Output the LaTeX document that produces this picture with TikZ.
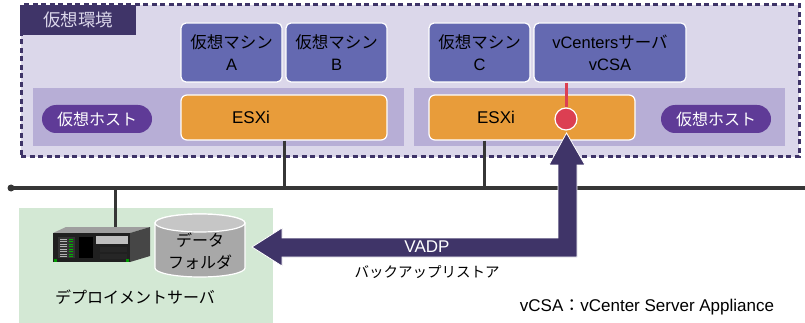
\documentclass[tikz,border=0pt]{standalone}
\usepackage{fontspec}
\setmainfont{Liberation Sans}
\newfontfamily\jp{Noto Sans CJK JP}
\newfontfamily\lat{Liberation Sans}
\usepackage{tikz}
\usetikzlibrary{positioning, arrows.meta}
\definecolor{envlav}{HTML}{DBD7EA}
\definecolor{envdark}{HTML}{3F3468}
\definecolor{vmblue}{HTML}{6469B1}
\definecolor{hostlav}{HTML}{B7AED6}
\definecolor{esxiorange}{HTML}{E89C3A}
\definecolor{pillpurple}{HTML}{5F3B97}
\definecolor{vcsared}{HTML}{DC3F52}
\definecolor{deploygreen}{HTML}{D3E8D4}
\definecolor{lanline}{HTML}{363636}
\definecolor{folderside}{HTML}{A8A8A8}
\definecolor{foldertop}{HTML}{C6C6C6}
\tikzset{
  jpfont/.style={font=\jp\fontsize{#1}{22}\selectfont},
  vmbox/.style={draw=white, line width=1.2pt, fill=vmblue, rounded corners=5pt,
    minimum width=101pt, minimum height=59pt, inner sep=0pt, align=center,
    jpfont=16.5},
  hostband/.style={fill=hostlav, minimum width=371pt, minimum height=58pt, inner sep=0pt},
  esxibox/.style={draw=white, line width=1.2pt, fill=esxiorange, rounded corners=6pt,
    minimum width=206pt, minimum height=45pt, inner sep=0pt},
  hostpill/.style={fill=pillpurple, rounded corners=14pt, minimum width=110pt,
    minimum height=28pt, inner sep=0pt, text=white, jpfont=16},
  lan/.style={draw=lanline, line width=3pt},
}
\begin{document}
\begin{tikzpicture}[x=1pt, y=-1pt]
  \useasboundingbox (0,0) rectangle (805,323);

  % virtual environment frame
  \node[fill=envlav, draw=envdark, line width=3pt, dash pattern=on 5pt off 3.5pt,
    minimum width=778pt, minimum height=152pt, inner sep=0pt] (env) at (410,81) {};
  \node[fill=envdark, minimum width=116pt, minimum height=30pt, inner sep=0pt,
    text=envlav, jpfont=17.5] (envtab) at (78,20) {仮想環境};

  % host bands
  \node[hostband] (bandL) at (218.5,117) {};
  \node[hostband] (bandR) at (599.5,117) {};
  \node[hostpill] (hostL) at (97,119) {仮想ホスト};
  \node[hostpill] (hostR) at (716,119) {仮想ホスト};

  % ESXi hosts
  \node[esxibox] (esxiL) at (284,117.5) {};
  \node[esxibox] (esxiR) at (532,117.5) {};
  \node[font=\fontsize{17}{20}\selectfont] (esxiLtxt) at (251,117.5) {ESXi};
  \node[font=\fontsize{17}{20}\selectfont] (esxiRtxt) at (496,117.5) {ESXi};

  % virtual machines
  \node[vmbox] (vmA) at (231.5,52.5) {仮想マシン\\{\lat A}};
  \node[vmbox] (vmB) at (336.5,52.5) {仮想マシン\\{\lat B}};
  \node[vmbox] (vmC) at (479.5,52.5) {仮想マシン\\{\lat C}};
  \node[vmbox, minimum width=152pt, font=\fontsize{16.5}{22}\selectfont]
    (vcsa) at (610,52.5) {vCenters{\jp サーバ}\\vCSA};

  % vCSA on the right host
  \node[circle, fill=vcsared, draw=white, line width=1.2pt, minimum size=22pt,
    inner sep=0pt] (vcsadot) at (566,119) {};
  \draw[vcsared, line width=3pt] (vcsadot |- vcsa.south) -- (vcsadot.north);

  % LAN
  \coordinate (lanL) at (11,188);
  \coordinate (lanR) at (805,188);
  \draw[lan] (lanL) -- (lanR);
  \fill[lanline] (lanL) circle (3.5);
  \draw[lan] (esxiL.south) -- (esxiL.south |- lanL);
  \draw[lan] ([xshift=-48pt]esxiR.south) -- ([xshift=-48pt]esxiR.south |- lanL);

  % deployment server
  \node[fill=deploygreen, minimum width=254pt, minimum height=115pt, inner sep=0pt]
    (deploy) at (146,265.5) {};
  \node[jpfont=16] (deploylbl) at (135,297) {デプロイメントサーバ};
  \coordinate (server) at (115,229);
  \draw[lan] (server) -- (server |- lanL);
  \fill[gray!75] (53,233) -- (130,233) -- (150,227) -- (66,227) -- cycle;
  \fill[gray!55!black] (130,233) -- (150,227) -- (150,256) -- (130,262) -- cycle;
  \fill[gray!25!black] (53,233) rectangle (130,262);
  \fill[black!80] (58,237) rectangle (75,258);
  \foreach \y in {238.5,241,243.5,246,248.5,251,253.5,256} {
    \fill[green!70!black] (69,\y) rectangle (73,\y+1.4);
    \fill[gray!60] (60,\y) rectangle (67,\y+1.4);
  }
  \fill[black] (79,237) rectangle (93,258);
  \fill[gray!50] (96,236) rectangle (128,244);
  \fill[black!85] (100,247) rectangle (127,252);
  \fill[black!85] (100,254) rectangle (127,259);
  \fill[green!60!black] (54,259) rectangle (57,262);
  \fill[green!60!black] (126,259) rectangle (129,262);

  % data folder
  \filldraw[fill=folderside, draw=white, line width=1.2pt]
    (155,223) -- (155,268) arc (180:0:45 and 9) -- (245,223) arc (0:-180:45 and 9) -- cycle;
  \filldraw[fill=foldertop, draw=white, line width=1.2pt] (200,223) ellipse (45 and 9);
  \node[jpfont=16, align=center] (folder) at (200,251) {データ\\フォルダ};

  % VADP backup / restore path
  \fill[envdark, draw=white, line width=0.8pt]
    (566.5,133) -- (585,165) -- (577,165) -- (577,257) -- (282,257) -- (282,266)
    -- (252,247) -- (282,228) -- (282,238) -- (558,238) -- (558,165) -- (549,165) -- cycle;
  \node[text=white, font=\fontsize{17}{20}\selectfont] (vadp) at (427,247) {VADP};
  \node[jpfont=14.5] (restore) at (427,272) {バックアップリストア};
  \node[font=\fontsize{17}{20}\selectfont] (legend) at (647,307) {vCSA{\jp ：}vCenter Server Appliance};
\end{tikzpicture}
\end{document}
